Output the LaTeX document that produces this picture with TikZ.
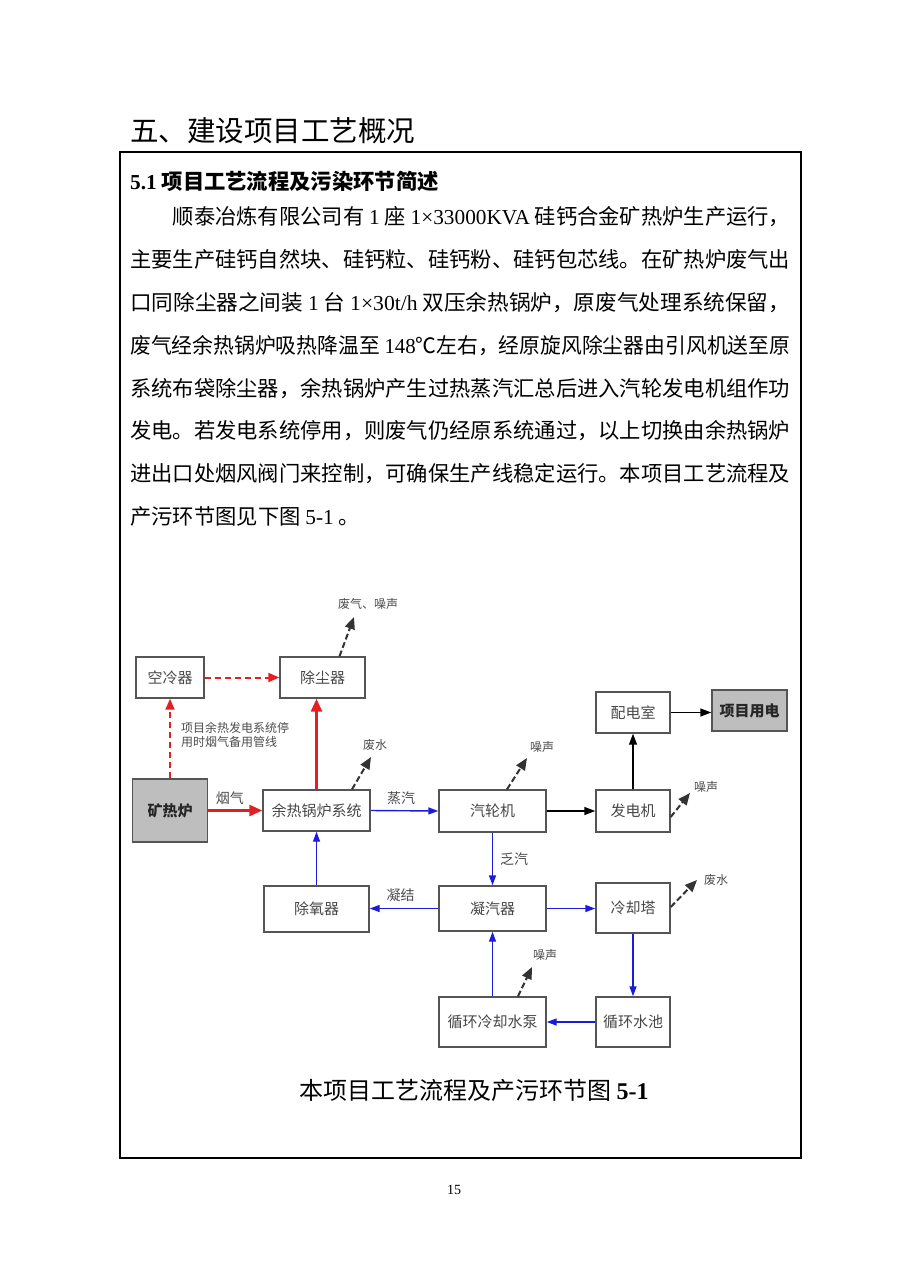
\documentclass[tikz,border=0pt]{standalone}
\usepackage{fontspec}
\setmainfont{Noto Sans CJK SC}
\newfontfamily\tnr{Liberation Serif}
\usepackage{graphicx}
\usetikzlibrary{arrows.meta,positioning,calc}
\definecolor{flowred}{RGB}{226,32,36}
\definecolor{flowblue}{RGB}{28,28,214}
\definecolor{boxgray}{RGB}{190,190,190}
\definecolor{edgegray}{RGB}{85,85,85}
\newcommand{\fs}[1]{\fontsize{#1pt}{#1pt}\selectfont}
\newcommand{\jline}[2]{\resizebox{#1pt}{\height}{#2}}
\tikzset{
  box/.style={draw=edgegray, line width=1.4pt, fill=white, text=black!72, inner sep=0pt, font=\fs{15}},
  graybox/.style={box, fill=boxgray, text=black!85, font=\fs{15}\bfseries},
  textline/.style={anchor=base west, inner sep=0pt, font=\fs{21.3}},
  lbl/.style={inner sep=0pt, text=black!70, font=\fs{12}},
  flowlbl/.style={inner sep=0pt, text=black!70, font=\fs{14}},
  redflow/.style={draw=flowred, line width=2.6pt, -{Triangle[length=13pt,width=11pt]}},
  redbackup/.style={draw=flowred, line width=2pt, dash pattern=on 6pt off 4pt, -{Triangle[length=11pt,width=9pt]}},
  blueflow/.style={draw=flowblue, line width=1.4pt, -{Triangle[length=10pt,width=7pt]}},
  blackflow/.style={draw=black, line width=1.4pt, -{Triangle[length=11pt,width=8pt]}},
  emit/.style={draw=black!80, line width=2pt, dash pattern=on 6pt off 3pt, -{Triangle[length=12pt,width=10pt]}}
}

\begin{document}
\begin{tikzpicture}[x=1pt,y=-1pt]
    \useasboundingbox (0,0) rectangle (900,1273);

    % Title and frame
    \node[anchor=base west, inner sep=0pt, font=\fs{28.5}] (title) at (130,142) {五、建设项目工艺概况};
    \draw[line width=1.6pt] (120,152) rectangle (801,1158);

    % Text of section 5.1
    \node[textline, font=\fs{21.3}\bfseries] (head) at (130,190) {{\tnr\bfseries 5.1} 项目工艺流程及污染环节简述};
    \node[textline] (l1) at (172.6,225) {\jline{617.4}{顺泰冶炼有限公司有 {\tnr 1} 座 {\tnr 1×33000KVA} 硅钙合金矿热炉生产运行，}};
    \node[textline] (l2) at (130,268) {\jline{660}{主要生产硅钙自然块、硅钙粒、硅钙粉、硅钙包芯线。在矿热炉废气出}};
    \node[textline] (l3) at (130,310) {\jline{660}{口同除尘器之间装 {\tnr 1} 台 {\tnr 1×30t/h} 双压余热锅炉，原废气处理系统保留，}};
    \node[textline] (l4) at (130,353) {\jline{660}{废气经余热锅炉吸热降温至 {\tnr 148}℃左右，经原旋风除尘器由引风机送至原}};
    \node[textline] (l5) at (130,396) {\jline{660}{系统布袋除尘器，余热锅炉产生过热蒸汽汇总后进入汽轮发电机组作功}};
    \node[textline] (l6) at (130,438) {\jline{660}{发电。若发电系统停用，则废气仍经原系统通过，以上切换由余热锅炉}};
    \node[textline] (l7) at (130,481) {\jline{660}{进出口处烟风阀门来控制，可确保生产线稳定运行。本项目工艺流程及}};
    \node[textline] (l8) at (130,524) {产污环节图见下图 {\tnr 5-1} 。};

    % Boxes of the flow chart
    \node[box, minimum width=68pt, minimum height=41pt] (kongleng) at (170,677.5) {空冷器};
    \node[box, minimum width=85pt, minimum height=41pt] (chuchen) at (322.5,677.5) {除尘器};
    \node[box, minimum width=74pt, minimum height=41pt] (peidian) at (633,712.5) {配电室};
    \node[graybox, minimum width=75pt, minimum height=41pt] (yongdian) at (749.5,710.5) {项目用电};
    \node[graybox, minimum width=75pt, minimum height=63pt] (kuang) at (170,810.5) {矿热炉};
    \node[box, minimum width=107pt, minimum height=41pt] (yure) at (316.5,810.5) {余热锅炉系统};
    \node[box, minimum width=107pt, minimum height=42pt] (qilun) at (492.5,811) {汽轮机};
    \node[box, minimum width=74pt, minimum height=42pt] (fadian) at (633,811) {发电机};
    \node[box, minimum width=105pt, minimum height=46pt] (chuyang) at (316.5,909) {除氧器};
    \node[box, minimum width=107pt, minimum height=45pt] (ningqi) at (492.5,908.5) {凝汽器};
    \node[box, minimum width=74pt, minimum height=50pt] (lengque) at (633,908) {冷却塔};
    \node[box, minimum width=107pt, minimum height=50pt] (beng) at (492.5,1022) {循环冷却水泵};
    \node[box, minimum width=74pt, minimum height=50pt] (chi) at (633,1022) {循环水池};

    % Flue gas (red)
    \draw[redflow] (kuang.east) -- (yure.west) node[flowlbl, pos=0.4, above=5pt] (yanqi) {烟气};
    \draw[redflow] (yure.north) -- (yure.north |- chuchen.south);
    \draw[redbackup] (kuang.north) -- (kongleng.south);
    \draw[redbackup] (kongleng.east) -- (chuchen.west);
    \node[lbl, anchor=west, align=left] (beiyong) at (181,734.5) {项目余热发电系统停\\[2pt]用时烟气备用管线};

    % Steam and water (blue)
    \draw[blueflow] (yure.east) -- (qilun.west) node[flowlbl, pos=0.45, above=5pt] (zhengqi) {蒸汽};
    \draw[blueflow] (qilun.south) -- (ningqi.north) node[flowlbl, midway, right=7pt] (faqi) {乏汽};
    \draw[blueflow] (ningqi.west) -- (ningqi.west -| chuyang.east) node[flowlbl, pos=0.55, above=6pt] (ningjie) {凝结};
    \draw[blueflow] (chuyang.north) -- (chuyang.north |- yure.south);
    \draw[blueflow] (ningqi.east) -- (ningqi.east -| lengque.west);
    \draw[blueflow] (lengque.south) -- (chi.north);
    \draw[blueflow] (chi.west) -- (beng.east);
    \draw[blueflow] (beng.north) -- (ningqi.south);

    % Power (black)
    \draw[blackflow] (qilun.east) -- (fadian.west);
    \draw[blackflow] (fadian.north) -- (peidian.south);
    \draw[blackflow] (peidian.east) -- (peidian.east -| yongdian.west);

    % Emissions (dashed)
    \coordinate (e1) at (354,617);
    \coordinate (e2) at (371,757);
    \coordinate (e3) at (527,758);
    \coordinate (e4) at (690,793);
    \coordinate (e5) at (532,967);
    \coordinate (e6) at (697,880);
    \draw[emit] ([xshift=17pt]chuchen.north) -- (e1);
    \draw[emit] ([xshift=35.5pt]yure.north) -- (e2);
    \draw[emit] ([xshift=14.5pt]qilun.north) -- (e3);
    \draw[emit] ([yshift=-6pt]fadian.east) -- (e4);
    \draw[emit] ([xshift=25.5pt]beng.north) -- (e5);
    \draw[emit] ([yshift=1pt]lengque.east) -- (e6);
    \node[lbl] (fq1) at (368,604) {废气、噪声};
    \node[lbl] (fs1) at (375,745) {废水};
    \node[lbl] (zs1) at (542,747) {噪声};
    \node[lbl] (zs2) at (706,787) {噪声};
    \node[lbl] (zs3) at (545,955) {噪声};
    \node[lbl] (fs2) at (716,880) {废水};

    % Caption and page number
    \node[inner sep=0pt, font=\fs{24}] (caption) at (474,1090) {本项目工艺流程及产污环节图 {\tnr\bfseries 5-1}};
    \node[inner sep=0pt, font=\tnr\fs{14}] (page) at (454,1190) {15};
\end{tikzpicture}
\end{document}
